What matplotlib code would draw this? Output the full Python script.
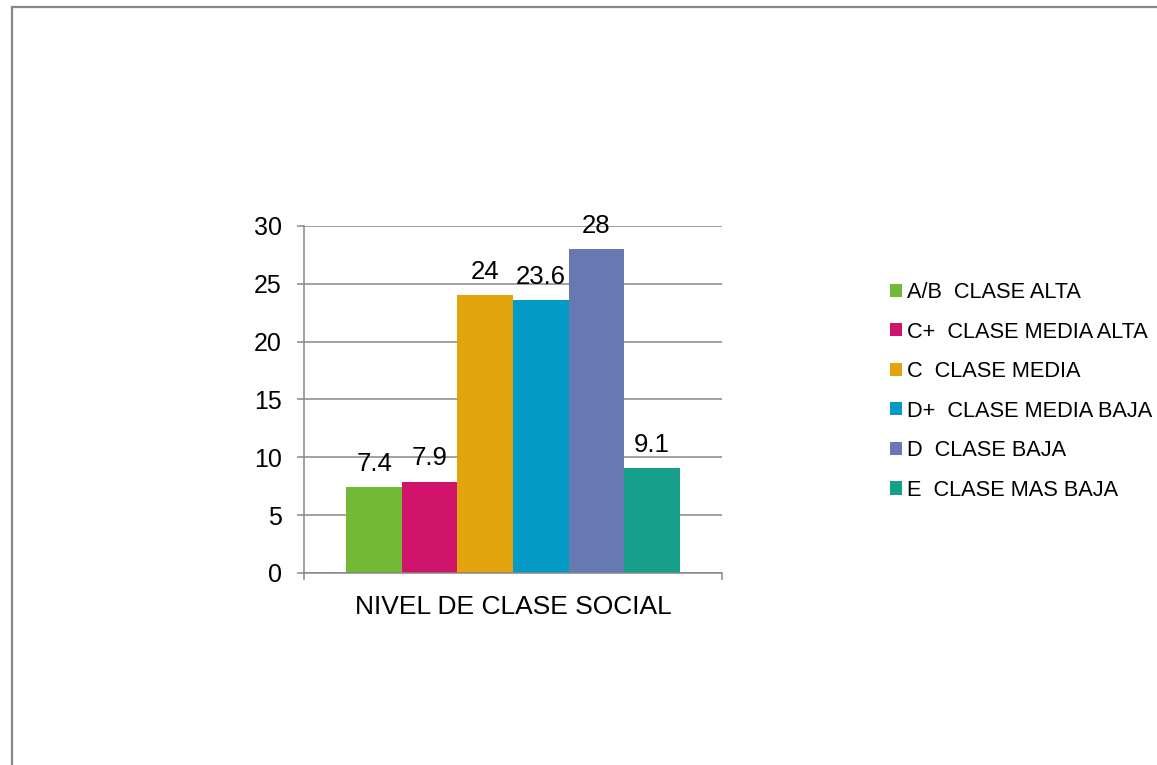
import matplotlib
matplotlib.use("Agg")
import matplotlib.pyplot as plt
from matplotlib.lines import Line2D

plt.rcParams['font.family'] = ['Liberation Sans', 'DejaVu Sans']

# Social class distribution (%)
categories = ['A/B  CLASE ALTA', 'C+  CLASE MEDIA ALTA', 'C  CLASE MEDIA',
              'D+  CLASE MEDIA BAJA', 'D  CLASE BAJA', 'E  CLASE MAS BAJA']
values = [7.4, 7.9, 24, 23.6, 28, 9.1]
colors = ['#72B935', '#D1146B', '#E2A40B', '#039AC5', '#6779B2', '#169F8B']
value_labels = ['7.4', '7.9', '24', '23.6', '28', '9.1']
y_ticks = [0, 5, 10, 15, 20, 25, 30]
x_title = 'NIVEL DE CLASE SOCIAL'

grey = '#878787'

fig = plt.figure(figsize=(11.57, 7.65), dpi=100)
ax = fig.add_axes([0.2628, 0.251, 0.3613, 0.4536])

n = len(values)
for i, (cat, v, c, lab) in enumerate(zip(categories, values, colors, value_labels)):
    bars = ax.bar(i - (n - 1) / 2, v, width=1.0, color=c, label=cat, zorder=3)
    ax.bar_label(bars, labels=[lab], padding=8, fontsize=18.5)

ax.set_ylim(0, 30)
ax.set_xlim(-3.76, 3.76)
ax.set_yticks(y_ticks)
ax.grid(axis='y', color=grey, linewidth=1.1, zorder=0)
ax.tick_params(axis='y', length=5, width=1.1, color=grey, labelsize=18, pad=11)
ax.set_xticks([-3.76, 3.76])
ax.set_xticklabels(['', ''])
ax.tick_params(axis='x', length=5, width=1.1, color=grey)
ax.set_xlabel(x_title, fontsize=19, labelpad=7)

for side in ['top', 'right']:
    ax.spines[side].set_visible(False)
for side in ['left', 'bottom']:
    ax.spines[side].set_color(grey)
    ax.spines[side].set_linewidth(1.1)
ax.spines['left'].set_zorder(4)
ax.spines['bottom'].set_zorder(4)

fig.legend(loc='upper left', bbox_to_anchor=(890 / 1157, 1 - 282 / 765),
           frameon=False, fontsize=15.7, handlelength=0.55, handleheight=0.55,
           handletextpad=0.25, labelspacing=0.85, borderpad=0, borderaxespad=0)

# chart frame, left and top edges
fig.add_artist(Line2D([12 / 1157, 12 / 1157], [0, 1 - 7 / 765],
                      transform=fig.transFigure, color=grey, linewidth=1.6))
fig.add_artist(Line2D([12 / 1157, 1], [1 - 7 / 765, 1 - 7 / 765],
                      transform=fig.transFigure, color=grey, linewidth=1.6))

fig.savefig('out.png', dpi=100)
